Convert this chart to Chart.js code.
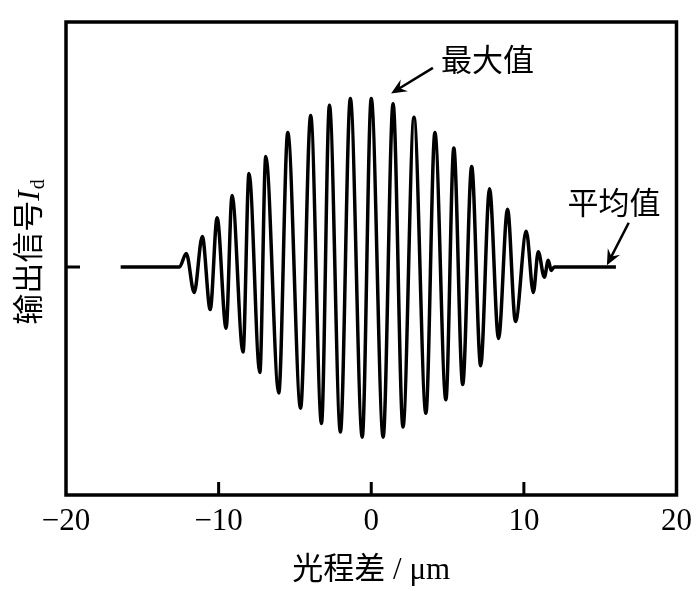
<!DOCTYPE html>
<html>
<head>
<meta charset="utf-8">
<script src="https://cdn.jsdelivr.net/npm/chart.js@4"></script>
<style>
html, body { margin: 0; padding: 0; background: #fff; }
#wrap { width: 700px; height: 591px; }
</style>
</head>
<body>
<div id="wrap"><canvas id="chart"></canvas></div>
<script>
// optical path difference (um) and detector output (mean level = 1)
const opd = [
    -16.42, -12.57, -12.12, -11.60, -11.07, -10.55, -10.10, -9.51, -9.12, -8.40,
    -8.01, -7.30, -6.91, -6.06, -5.47, -4.63, -3.97, -3.26, -2.74, -2.02,
    -1.37, -0.59, 0.00, 0.78, 1.43, 2.08, 2.80, 3.58, 4.17, 4.89,
    5.41, 5.99, 6.58, 7.17, 7.75, 8.34, 8.93, 9.45, 10.16, 10.62,
    10.94, 11.34, 11.60, 11.79, 11.99, 16.03
];
const signal = [
    1.00, 1.00, 1.08, 0.85, 1.18, 0.75, 1.29, 0.64, 1.42, 0.50,
    1.55, 0.38, 1.65, 0.26, 1.79, 0.17, 1.89, 0.08, 1.95, 0.03,
    1.99, 0.00, 1.99, 0.00, 1.96, 0.06, 1.88, 0.14, 1.79, 0.22,
    1.70, 0.31, 1.59, 0.42, 1.46, 0.58, 1.34, 0.68, 1.21, 0.85,
    1.09, 0.94, 1.04, 0.98, 1.00, 1.00
];
const xTicks = [-20, -10, 0, 10, 20];
const meanLevel = 1;

const serif = '"Liberation Serif", "Noto Sans CJK SC", serif';

// labels with arrows: text position and arrow start/end in data units
const notes = [
    { text: "最大值", x: 7.62, y: 2.20, from: [4.04, 2.17], to: [1.30, 2.02] },
    { text: "平均值", x: 15.9, y: 1.36, from: [16.87, 1.26], to: [15.44, 1.01] }
];

const whiteBg = {
    id: "whiteBg",
    beforeDraw(c) {
        const ctx = c.ctx;
        ctx.save();
        ctx.fillStyle = "#fff";
        ctx.fillRect(0, 0, c.width, c.height);
        ctx.restore();
    }
};

const frame = {
    id: "frame",
    afterDraw(c) {
        const ctx = c.ctx;
        const a = c.chartArea;
        const xs = c.scales.x;
        const ys = c.scales.y;
        ctx.save();
        ctx.strokeStyle = "#000";
        ctx.lineWidth = 3.5;
        ctx.strokeRect(a.left, a.top, a.right - a.left, a.bottom - a.top);
        ctx.lineWidth = 3;
        ctx.beginPath();
        xTicks.slice(1, -1).forEach(v => {
            const px = xs.getPixelForValue(v);
            ctx.moveTo(px, a.bottom);
            ctx.lineTo(px, a.bottom - 13);
        });
        const py = ys.getPixelForValue(meanLevel);
        ctx.moveTo(a.left, py);
        ctx.lineTo(a.left + 14, py);
        ctx.stroke();
        ctx.restore();
    }
};

const yTitle = {
    id: "yTitle",
    afterDraw(c) {
        const ctx = c.ctx;
        const a = c.chartArea;
        ctx.save();
        ctx.translate(28, (a.top + a.bottom) / 2 - 6);
        ctx.rotate(-Math.PI / 2);
        ctx.fillStyle = "#000";
        ctx.textBaseline = "alphabetic";
        const f1 = "31px " + serif;
        const f2 = "italic 31px " + serif;
        const f3 = "20px " + serif;
        ctx.font = f1; const w1 = ctx.measureText("输出信号").width;
        ctx.font = f2; const w2 = ctx.measureText("I").width;
        ctx.font = f3; const w3 = ctx.measureText("d").width;
        let x = -(w1 + w2 + w3) / 2;
        ctx.font = f1; ctx.fillText("输出信号", x, 11); x += w1;
        ctx.font = f2; ctx.fillText("I", x, 11); x += w2 + 1;
        ctx.font = f3; ctx.fillText("d", x, 16);
        ctx.restore();
    }
};

const arrows = {
    id: "arrows",
    afterDraw(c) {
        const ctx = c.ctx;
        const xs = c.scales.x;
        const ys = c.scales.y;
        ctx.save();
        ctx.fillStyle = "#000";
        ctx.strokeStyle = "#000";
        notes.forEach(n => {
            ctx.font = "31px " + serif;
            ctx.textAlign = "center";
            ctx.textBaseline = "middle";
            ctx.fillText(n.text, xs.getPixelForValue(n.x), ys.getPixelForValue(n.y));
            const x0 = xs.getPixelForValue(n.from[0]), y0 = ys.getPixelForValue(n.from[1]);
            const x1 = xs.getPixelForValue(n.to[0]), y1 = ys.getPixelForValue(n.to[1]);
            const ang = Math.atan2(y1 - y0, x1 - x0);
            const len = 17;
            ctx.lineWidth = 2.5;
            ctx.beginPath();
            ctx.moveTo(x0, y0);
            ctx.lineTo(x1 - Math.cos(ang) * 8, y1 - Math.sin(ang) * 8);
            ctx.stroke();
            ctx.beginPath();
            ctx.moveTo(x1, y1);
            ctx.lineTo(x1 - len * Math.cos(ang - 0.42), y1 - len * Math.sin(ang - 0.42));
            ctx.lineTo(x1 - 10 * Math.cos(ang), y1 - 10 * Math.sin(ang));
            ctx.lineTo(x1 - len * Math.cos(ang + 0.42), y1 - len * Math.sin(ang + 0.42));
            ctx.closePath();
            ctx.fill();
        });
        ctx.restore();
    }
};

new Chart(document.getElementById("chart"), {
    type: "line",
    data: {
        datasets: [{
            data: opd.map((v, i) => ({ x: v, y: signal[i] })),
            borderColor: "#000",
            borderWidth: 3.5,
            pointRadius: 0,
            cubicInterpolationMode: "monotone",
            fill: false
        }]
    },
    options: {
        responsive: true,
        maintainAspectRatio: false,
        animation: false,
        layout: { padding: { top: 22, right: 20, left: 0, bottom: 0 } },
        plugins: {
            legend: { display: false },
            tooltip: { enabled: false }
        },
        scales: {
            x: {
                type: "linear",
                min: -20,
                max: 20,
                afterBuildTicks: s => { s.ticks = xTicks.map(v => ({ value: v })); },
                afterFit: s => { s.height = 96; },
                grid: { display: false, drawTicks: false },
                border: { display: false },
                ticks: {
                    padding: 8,
                    color: "#000",
                    font: { family: serif, size: 31 },
                    maxRotation: 0,
                    callback: v => String(v).replace("-", "\u2212")
                },
                title: {
                    display: true,
                    text: "光程差 / μm",
                    color: "#000",
                    font: { family: serif, size: 31 },
                    padding: { top: 0, bottom: 2 }
                }
            },
            y: {
                min: -0.34,
                max: 2.44,
                afterFit: s => { s.width = 66; },
                grid: { display: false, drawTicks: false },
                border: { display: false },
                ticks: { display: false }
            }
        }
    },
    plugins: [whiteBg, frame, yTitle, arrows]
});
</script>
</body>
</html>
